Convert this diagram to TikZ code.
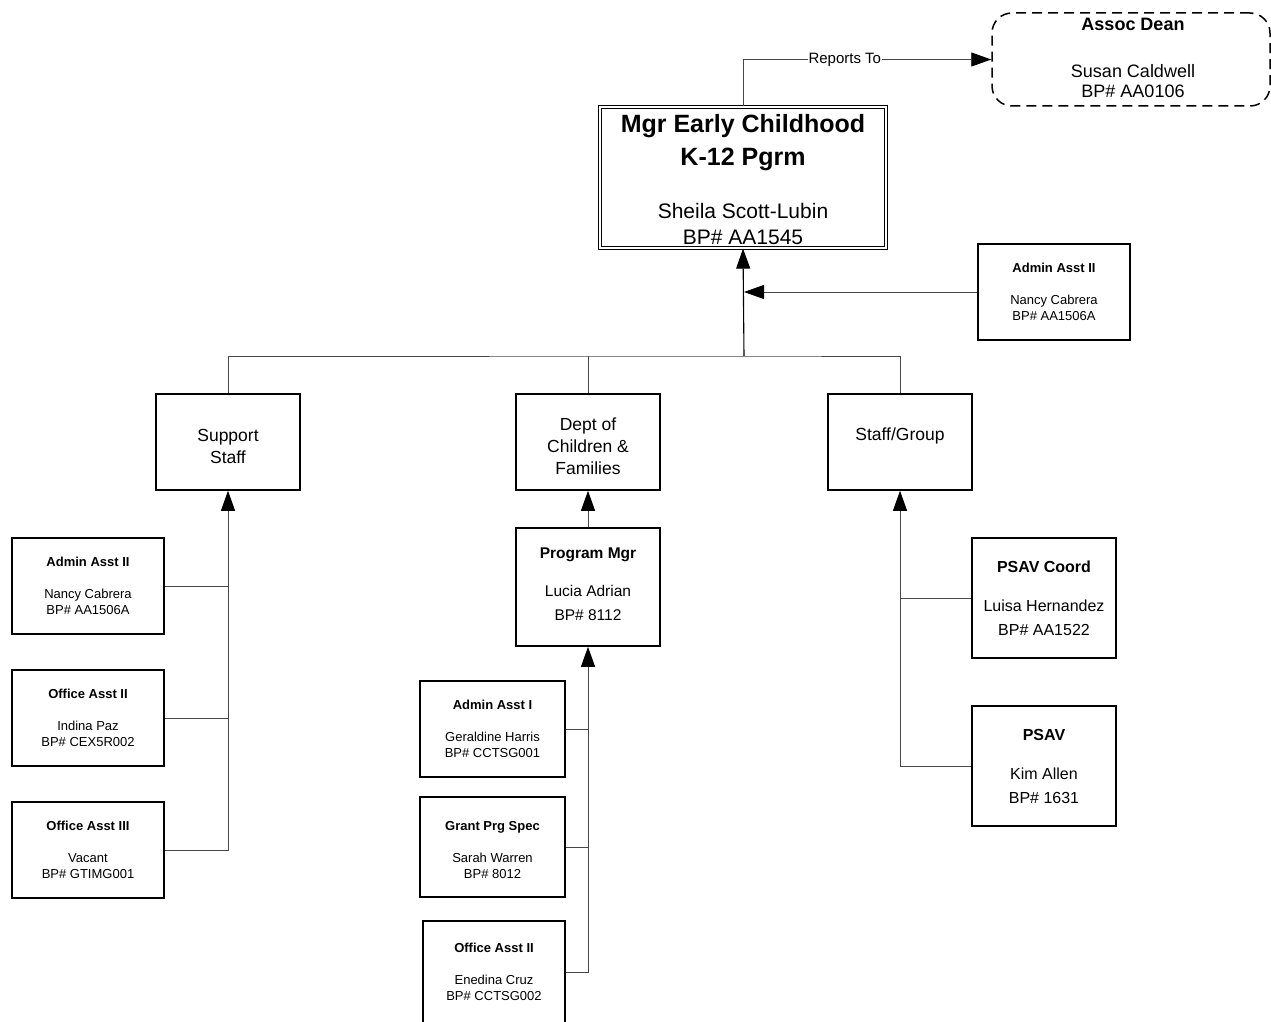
\documentclass[tikz,border=0pt]{standalone}
\usepackage{fontspec}
\setmainfont{Liberation Sans}
\usetikzlibrary{arrows.meta}
\begin{document}
\begin{tikzpicture}[x=1pt,y=-1pt,
  box/.style={draw,line width=1.6pt,inner sep=0pt,align=center},
  smallbox/.style={box,minimum width=#1,minimum height=96pt,font=\fontsize{13}{16}\selectfont},
  midbox/.style={box,minimum width=144pt,minimum height=96pt},
  midtext/.style={align=center,inner sep=0pt,font=\fontsize{17.5}{22}\selectfont},
  bigbox/.style={box,minimum width=144pt,minimum height=#1,font=\fontsize{15.5}{24}\selectfont},
  plain/.style={align=center,inner sep=0pt},
  conn/.style={draw=black!72,line width=0.9pt},
  arr/.style={conn,-{Triangle[length=20pt,width=14pt,color=black]}}
]
\useasboundingbox (0,0) rectangle (1271,1022);

% top
\node[draw,line width=1.5pt,dash pattern=on 10pt off 6pt,rounded corners=20pt,
  minimum width=278pt,minimum height=93pt,inner sep=0pt] (dean) at (1131,59.5) {};
\node[plain,font=\fontsize{18}{20}\selectfont] (deant) at (1133,58)
  {\textbf{Assoc Dean}\\[27pt]Susan Caldwell\\BP\# AA0106};

\node[draw,line width=1.2pt,double,double distance=2pt,minimum width=286pt,
  minimum height=141pt,inner sep=0pt] (main) at (743,177.5) {};
\node[plain,font=\bfseries\fontsize{25}{33}\selectfont]
  (maint) at (743,143) {Mgr Early Childhood\\K-12 Pgrm};
\node[plain,font=\fontsize{21}{26}\selectfont]
  (mainn) at (743,224) {Sheila Scott-Lubin\\BP\# AA1545};

\node[smallbox=152pt] (aa0) at (1054,292) {\textbf{Admin Asst II}\\[16pt]Nancy Cabrera\\BP\# AA1506A};

% middle level
\node[midbox] (sup) at (228,442) {};
\node[midtext] (supt) at (228,446) {Support\\Staff};
\node[midbox] (dept) at (588,442) {};
\node[midtext] (deptt) at (588,446) {Dept of\\Children \&\\Families};
\node[midbox] (stf) at (900,442) {};
\node[midtext] (stft) at (900,436) {Staff/Group};

% left column
\node[smallbox=152pt] (aa1) at (88,586) {\textbf{Admin Asst II}\\[16pt]Nancy Cabrera\\BP\# AA1506A};
\node[smallbox=152pt] (oa1) at (88,718) {\textbf{Office Asst II}\\[16pt]Indina Paz\\BP\# CEX5R002};
\node[smallbox=152pt] (oa3) at (88,850) {\textbf{Office Asst III}\\[16pt]Vacant\\BP\# GTIMG001};

% center column
\node[box,minimum width=144pt,minimum height=118pt] (pm) at (588,587) {};
\node[plain,font=\fontsize{15.5}{24}\selectfont] (pmt) at (588,584.5) {\textbf{Program Mgr}\\[14pt]Lucia Adrian\\BP\# 8112};
\node[smallbox=145pt] (aa2) at (492.5,729) {\textbf{Admin Asst I}\\[16pt]Geraldine Harris\\BP\# CCTSG001};
\node[box,minimum width=145pt,minimum height=100pt] (gps) at (492.5,847) {};
\node[plain,font=\fontsize{13}{16}\selectfont] (gpst) at (492.5,850) {\textbf{Grant Prg Spec}\\[16pt]Sarah Warren\\BP\# 8012};
\node[smallbox=142pt,minimum height=102pt] (oa4) at (494,972) {\textbf{Office Asst II}\\[16pt]Enedina Cruz\\BP\# CCTSG002};

% right column
\node[bigbox=120pt,font=\fontsize{16}{24}\selectfont] (psc) at (1044,598) {\textbf{PSAV Coord}\\[15pt]Luisa Hernandez\\BP\# AA1522};
\node[bigbox=120pt,font=\fontsize{16}{24}\selectfont] (psav) at (1044,766) {\textbf{PSAV}\\[15pt]Kim Allen\\BP\# 1631};

% connectors
\coordinate (jn) at (744,356);
\draw[arr] (main.north) |- node[pos=0.705,fill=white,inner sep=1pt,font=\fontsize{15}{17}\selectfont] (rt) {Reports To} (dean.west);
\draw[conn] (sup.north) |- (jn) -| (stf.north);
\draw[conn] (dept.north) -- (dept.north |- jn);
\draw[arr,draw=black,line width=1.1pt] (jn) -- (main.south);
\draw[arr] (aa0.west) -- (aa0.west -| jn);

\draw[arr] (oa3.east) -| (sup.south);
\draw[conn] (aa1.east) -- (aa1.east -| sup.south);
\draw[conn] (oa1.east) -- (oa1.east -| sup.south);

\draw[arr] (pm.north) -- (dept.south);
\draw[arr] (oa4.east) -| (pm.south);
\draw[conn] (aa2.east) -- (aa2.east -| pm.south);
\draw[conn] (gps.east) -- (gps.east -| pm.south);

\draw[arr] (psav.west) -| (stf.south);
\draw[conn] (psc.west) -- (psc.west -| stf.south);
\end{tikzpicture}
\end{document}
